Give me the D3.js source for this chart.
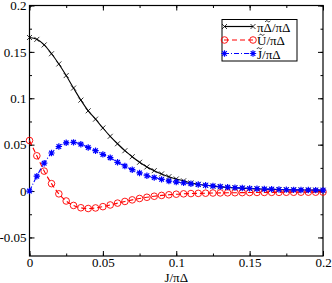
<!DOCTYPE html>
<html>
<head>
<meta charset="utf-8">
<script src="https://cdn.jsdelivr.net/npm/d3@7"></script>
<style>
  body { margin: 0; background: #fff; }
  svg text { font-family: "Liberation Serif", "Times New Roman", "DejaVu Serif", serif; fill: #000; }
</style>
</head>
<body>
<svg id="chart" width="332" height="283"></svg>
<script>
// J/piDelta sample points
const jValues = [0, 0.005, 0.01, 0.015, 0.02, 0.025, 0.03, 0.035, 0.04, 0.045,
  0.05, 0.055, 0.06, 0.065, 0.07, 0.075, 0.08, 0.085, 0.09, 0.095,
  0.1, 0.105, 0.11, 0.115, 0.12, 0.125, 0.13, 0.135, 0.14, 0.145,
  0.15, 0.155, 0.16, 0.165, 0.17, 0.175, 0.18, 0.185, 0.19, 0.195, 0.2];

const deltaValues = [0.1655, 0.1635, 0.1575, 0.148, 0.137, 0.1245, 0.111, 0.098, 0.0865, 0.0775,
  0.068, 0.059, 0.051, 0.0435, 0.037, 0.031, 0.026, 0.022, 0.0185, 0.0155,
  0.013, 0.011, 0.0088, 0.0073, 0.0062, 0.0053, 0.0045, 0.0039, 0.0034, 0.003,
  0.0026, 0.0023, 0.002, 0.0018, 0.0016, 0.0014, 0.0013, 0.0012, 0.0011, 0.001, 0.0009];

const uValues = [0.0545, 0.038, 0.0215, 0.008, -0.003, -0.0107, -0.0155, -0.018, -0.0188, -0.0182,
  -0.0168, -0.015, -0.013, -0.0112, -0.0095, -0.008, -0.0067, -0.0056, -0.0047, -0.004,
  -0.0034, -0.003, -0.0027, -0.0025, -0.0023, -0.0021, -0.002, -0.0019, -0.0018, -0.0017,
  -0.0016, -0.0015, -0.0015, -0.0014, -0.0014, -0.0013, -0.0013, -0.0012, -0.0012, -0.0012, -0.0011];

const jTildeValues = [0.0, 0.016, 0.03, 0.041, 0.048, 0.052, 0.0525, 0.0505, 0.047, 0.0435,
  0.0395, 0.036, 0.031, 0.027, 0.023, 0.0195, 0.0165, 0.0145, 0.0126, 0.0108,
  0.0097, 0.0088, 0.0078, 0.007, 0.0062, 0.0055, 0.0048, 0.0042, 0.0037, 0.0033,
  0.0029, 0.0025, 0.0022, 0.002, 0.0017, 0.0015, 0.0013, 0.0012, 0.0011, 0.001, 0.0009];

const xTicks = [0, 0.05, 0.1, 0.15, 0.2];
const yTicks = [-0.05, 0, 0.05, 0.1, 0.15, 0.2];
// legend labels: [prefix, letter carrying a tilde, suffix]
const seriesNames = [["\u03c0", "\u0394", "/\u03c0\u0394"], ["", "U", "/\u03c0\u0394"], ["", "J", "/\u03c0\u0394"]];

let svg = d3.select("#chart");
let margin = {top: 5.5, right: 9, bottom: 27, left: 29.5};
let width = 332 - margin.left - margin.right;
let height = 283 - margin.top - margin.bottom;

let x = d3.scaleLinear().domain([0, 0.2]).range([0, width]);
let y = d3.scaleLinear().domain([-0.07, 0.2]).range([height, 0]);

let g = svg.append("g")
  .attr("transform", "translate(" + margin.left + "," + margin.top + ")");

// minor ticks every 0.025
let xMinor = d3.range(0, 0.2001, 0.025);
let yMinor = d3.range(-0.05, 0.2001, 0.025);
function tickFmt(d) { return d === 0 ? "0" : String(+d.toFixed(3)); }

function styleLabels(a) {
  a.attr("font-family", null);
  a.select(".domain").remove();
  a.selectAll("text").attr("font-size", 13);
}

// bottom axis
g.append("g").attr("transform", "translate(0," + height + ")")
  .call(d3.axisBottom(x).tickValues(xTicks).tickSize(-5).tickPadding(2).tickFormat(tickFmt))
  .call(styleLabels);
g.append("g").attr("transform", "translate(0," + height + ")")
  .call(d3.axisBottom(x).tickValues(xMinor).tickSize(-2.5).tickFormat(""))
  .call(a => a.select(".domain").remove());
// top axis
g.append("g")
  .call(d3.axisTop(x).tickValues(xTicks).tickSize(-5).tickFormat(""))
  .call(a => a.select(".domain").remove());
g.append("g")
  .call(d3.axisTop(x).tickValues(xMinor).tickSize(-2.5).tickFormat(""))
  .call(a => a.select(".domain").remove());
// left axis
g.append("g")
  .call(d3.axisLeft(y).tickValues(yTicks).tickSize(-5).tickPadding(3).tickFormat(tickFmt))
  .call(styleLabels);
g.append("g")
  .call(d3.axisLeft(y).tickValues(yMinor).tickSize(-2.5).tickFormat(""))
  .call(a => a.select(".domain").remove());
// right axis
g.append("g").attr("transform", "translate(" + width + ",0)")
  .call(d3.axisRight(y).tickValues(yTicks).tickSize(-5).tickFormat(""))
  .call(a => a.select(".domain").remove());
g.append("g").attr("transform", "translate(" + width + ",0)")
  .call(d3.axisRight(y).tickValues(yMinor).tickSize(-2.5).tickFormat(""))
  .call(a => a.select(".domain").remove());

g.append("rect")
  .attr("x", 0).attr("y", 0).attr("width", width).attr("height", height)
  .attr("fill", "none").attr("stroke", "#000").attr("stroke-width", 1.2);

// x label
g.append("text")
  .attr("x", width / 2).attr("y", height + 25.5)
  .attr("text-anchor", "middle").attr("font-size", 13)
  .text("J/\u03c0\u0394");

// markers
function drawCross(sel, cx, cy, r) {
  sel.append("path")
    .attr("d", "M" + (cx - r) + "," + (cy - r) + "L" + (cx + r) + "," + (cy + r) +
      "M" + (cx - r) + "," + (cy + r) + "L" + (cx + r) + "," + (cy - r))
    .attr("stroke", "#000").attr("stroke-width", 0.8).attr("fill", "none");
}
function drawCircle(sel, cx, cy, r) {
  sel.append("circle").attr("cx", cx).attr("cy", cy).attr("r", r)
    .attr("stroke", "#ff0000").attr("stroke-width", 0.9).attr("fill", "none");
}
function drawStar(sel, cx, cy, r) {
  let d = r * 0.72;
  sel.append("path")
    .attr("d", "M" + (cx - r) + "," + cy + "L" + (cx + r) + "," + cy +
      "M" + cx + "," + (cy - r) + "L" + cx + "," + (cy + r) +
      "M" + (cx - d) + "," + (cy - d) + "L" + (cx + d) + "," + (cy + d) +
      "M" + (cx - d) + "," + (cy + d) + "L" + (cx + d) + "," + (cy - d))
    .attr("stroke", "#0000ff").attr("stroke-width", 1.2).attr("fill", "none");
}

let series = [
  {name: seriesNames[0], values: deltaValues, color: "#000", dash: null, marker: drawCross, r: 2.5},
  {name: seriesNames[1], values: uValues, color: "#ff0000", dash: "5,3", marker: drawCircle, r: 3.3},
  {name: seriesNames[2], values: jTildeValues, color: "#0000ff", dash: "5,2,1,2", marker: drawStar, r: 3.2}
];

let line = d3.line().x(d => x(d[0])).y(d => y(d[1])).curve(d3.curveMonotoneX);

series.forEach(function (s) {
  let pts = jValues.map((j, i) => [j, s.values[i]]);
  g.append("path").datum(pts)
    .attr("d", line)
    .attr("fill", "none")
    .attr("stroke", s.color)
    .attr("stroke-width", 1.1)
    .attr("stroke-dasharray", s.dash);
  let mk = g.append("g");
  pts.forEach(p => s.marker(mk, x(p[0]), y(p[1]), s.r));
});

// legend
let legend = svg.append("g").attr("transform", "translate(222,19.5)");
legend.append("rect").attr("width", 75).attr("height", 41.5)
  .attr("fill", "#fff").attr("stroke", "#000").attr("stroke-width", 1);
series.forEach(function (s, i) {
  let ly = 7 + i * 13.5;
  legend.append("line")
    .attr("x1", 2).attr("x2", 31).attr("y1", ly).attr("y2", ly)
    .attr("stroke", s.color).attr("stroke-width", 1.2)
    .attr("stroke-dasharray", s.dash);
  s.marker(legend, 2.5, ly, s.r);
  s.marker(legend, 31, ly, s.r);
  let base = ly + 5;
  let t = legend.append("text")
    .attr("x", 35).attr("y", base)
    .attr("font-size", 13)
    .text(s.name.join(""));
  // small wavy tilde over the accented letter
  let pre = s.name[0] ? t.node().getSubStringLength(0, s.name[0].length) : 0;
  let lw = t.node().getSubStringLength(s.name[0].length, 1);
  let cx = 35 + pre + lw / 2, ty = base - 10.2, hw = 2.6;
  legend.append("path")
    .attr("d", "M" + (cx - hw) + "," + (ty + 0.6) +
      "C" + (cx - hw * 0.55) + "," + (ty - 1.3) + " " + (cx - hw * 0.2) + "," + (ty - 0.4) + " " + cx + "," + ty +
      "S" + (cx + hw * 0.55) + "," + (ty + 1.3) + " " + (cx + hw) + "," + (ty - 0.6))
    .attr("fill", "none").attr("stroke", "#000").attr("stroke-width", 0.8);
});
</script>
</body>
</html>
